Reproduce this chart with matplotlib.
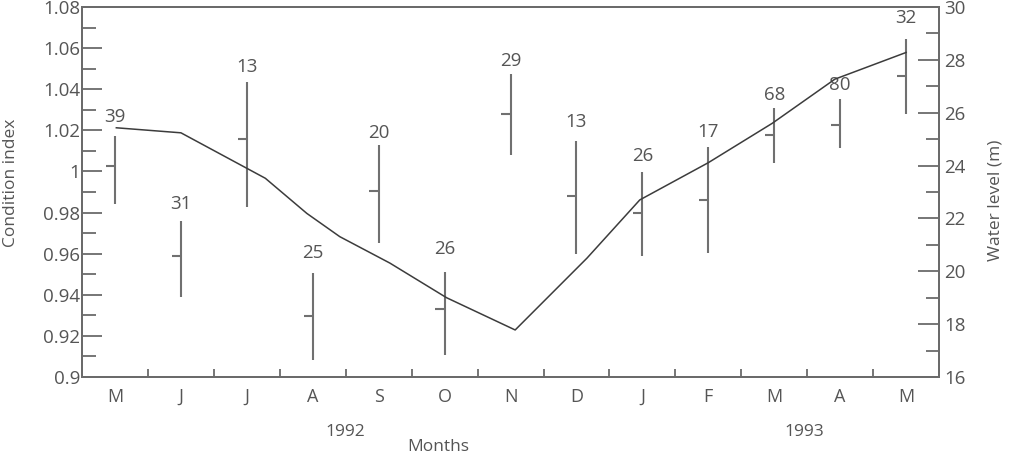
import numpy as np
import matplotlib
matplotlib.use("Agg")
import matplotlib.pyplot as plt
from matplotlib.ticker import MultipleLocator
import matplotlib.transforms as mtransforms

plt.rcParams["font.family"] = ["Open Sans", "DejaVu Sans"]

# -----------------------------
# Data
# -----------------------------
months = ["M", "J", "J", "A", "S", "O", "N", "D", "J", "F", "M", "A", "M"]
sample_n = [39, 31, 13, 25, 20, 26, 29, 13, 26, 17, 68, 80, 32]

ci_mean = [1.0026, 0.9590, 1.0158, 0.9297, 0.9905, 0.9329, 1.0280,
           0.9882, 0.9796, 0.9861, 1.0177, 1.0224, 1.0464]
ci_low = [0.9842, 0.9388, 0.9828, 0.9083, 0.9653, 0.9107, 1.0080,
          0.9597, 0.9589, 0.9602, 1.0040, 1.0113, 1.0280]
ci_high = [1.0174, 0.9759, 1.0435, 0.9504, 1.0129, 0.9512, 1.0473,
           1.0150, 0.9996, 1.0120, 1.0307, 1.0352, 1.0643]

# water level: time in months counted from start of May 1992
water_t = [0.52, 1.50, 2.78, 3.41, 3.91, 4.67, 5.53, 6.57,
           7.66, 8.46, 9.50, 10.47, 11.42, 12.50]
water_m = [25.43, 25.24, 23.52, 22.19, 21.31, 20.31, 19.00, 17.78,
           20.50, 22.70, 24.11, 25.60, 27.27, 28.28]

years = ["1992", "1993"]
year_pos = [4.0, 10.95]

# gap between bar top and sample-size label (points)
label_gap = [7, 6, 4, 8, 2, 10, 3, 7, 5, 4, 3, 4, 9]

axis_col = "#6b6b6b"
text_col = "#555555"

fig = plt.figure(figsize=(10.13, 4.55), dpi=100)
ax = fig.add_axes([0.081, 0.1714, 0.846, 0.8132])
ax2 = ax.twinx()

centers = np.arange(len(months)) + 0.5

# error bars with the mean marked on the left side
ax.vlines(centers, ci_low, ci_high, color="#707070", lw=1.5)
ax.hlines(ci_mean, centers - 0.14, centers, color="#707070", lw=1.5)

for x, top, n, gap in zip(centers, ci_high, sample_n, label_gap):
    ax.annotate(str(n), (x, top), xytext=(0, gap), textcoords="offset points",
                ha="center", va="bottom", fontsize=13.5, color=text_col)

ax2.plot(water_t, water_m, color="#3c3c3c", lw=1.1)

# axes setup
ax.set_xlim(0, 13)
ax.set_ylim(0.9, 1.08)
ax2.set_ylim(16, 30)

ax.set_xticks(np.arange(1, 13))
ax.set_xticklabels([])
ax.set_xticks(centers, minor=True)
ax.set_xticklabels(months, minor=True)
ax.tick_params(axis="x", which="major", direction="in", length=6, width=1.3,
               color=axis_col)
ax.tick_params(axis="x", which="minor", length=0, pad=8, labelsize=13,
               labelcolor=text_col)

ax.yaxis.set_major_locator(MultipleLocator(0.02))
ax.yaxis.set_minor_locator(MultipleLocator(0.01))
ax.set_yticks(np.arange(0.9, 1.0801, 0.02))
ax.set_yticklabels(["0.9", "0.92", "0.94", "0.96", "0.98", "1",
                    "1.02", "1.04", "1.06", "1.08"])
ax.tick_params(axis="y", which="major", direction="in", length=14.5, width=1.3,
               color=axis_col, labelsize=13.5, labelcolor=text_col, pad=1.5)
ax.tick_params(axis="y", which="minor", direction="in", length=10, width=1.3,
               color=axis_col)

ax2.yaxis.set_major_locator(MultipleLocator(2))
ax2.yaxis.set_minor_locator(MultipleLocator(1))
ax2.tick_params(axis="y", which="major", direction="in", length=15, width=1.3,
                color=axis_col, labelsize=13.5, labelcolor=text_col, pad=4)
ax2.tick_params(axis="y", which="minor", direction="in", length=9.5, width=1.3,
                color=axis_col)

for a in (ax, ax2):
    for s in a.spines.values():
        s.set_color(axis_col)
        s.set_linewidth(1.4)

ax.set_ylabel("Condition index", fontsize=12.5, color=text_col)
ax.yaxis.set_label_coords(-0.074, 0.526)
ax2.set_ylabel("Water level (m)", fontsize=12.5, color=text_col)
ax2.yaxis.set_label_coords(1.056, 0.478)

trans = mtransforms.blended_transform_factory(ax.transData, ax.transAxes)
for yr, xp in zip(years, year_pos):
    ax.text(xp, -0.148, yr, transform=trans, ha="center", va="center",
            fontsize=12.5, color=text_col)
ax.text(5.41, -0.188, "Months", transform=trans, ha="center", va="center",
        fontsize=12.5, color=text_col)

fig.savefig("out.png", dpi=100)
